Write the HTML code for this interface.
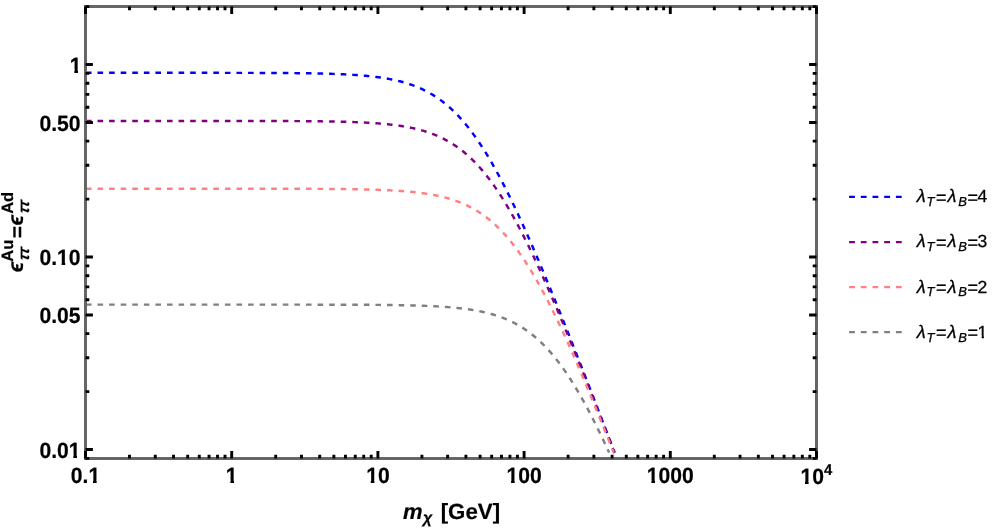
<!DOCTYPE html>
<html><head><meta charset="utf-8"><title>plot</title>
<style>
html,body{margin:0;padding:0;background:#fff;}
body{width:997px;height:529px;overflow:hidden;}
svg{display:block;}
text{font-family:"Liberation Sans",sans-serif;fill:#000;text-rendering:geometricPrecision;filter:grayscale(1);}
.tl{font-size:22px;font-weight:bold;stroke:#000;stroke-width:0.2px;}
</style></head><body>
<svg width="997" height="529" viewBox="0 0 997 529">
<rect width="997" height="529" fill="#fff" stroke="none"/>

<defs><clipPath id="c"><rect x="85.5" y="6.5" width="731.0" height="452.0"/></clipPath></defs>
<g clip-path="url(#c)" fill="none" stroke-width="2.45" stroke-dasharray="5.6 5.98" stroke-dashoffset="-0.44">
<path d="M85.50,72.81 L86.41,72.81 L87.33,72.81 L88.24,72.81 L89.16,72.81 L90.07,72.81 L90.98,72.81 L91.90,72.81 L92.81,72.81 L93.72,72.81 L94.64,72.81 L95.55,72.81 L96.46,72.81 L97.38,72.81 L98.29,72.81 L99.21,72.81 L100.12,72.81 L101.03,72.81 L101.95,72.81 L102.86,72.81 L103.78,72.81 L104.69,72.81 L105.60,72.81 L106.52,72.81 L107.43,72.81 L108.34,72.81 L109.26,72.81 L110.17,72.81 L111.09,72.81 L112.00,72.81 L112.91,72.81 L113.83,72.81 L114.74,72.81 L115.65,72.81 L116.57,72.81 L117.48,72.81 L118.39,72.81 L119.31,72.81 L120.22,72.81 L121.14,72.81 L122.05,72.81 L122.96,72.81 L123.88,72.81 L124.79,72.81 L125.70,72.81 L126.62,72.81 L127.53,72.81 L128.45,72.81 L129.36,72.81 L130.27,72.81 L131.19,72.81 L132.10,72.81 L133.01,72.81 L133.93,72.81 L134.84,72.81 L135.76,72.81 L136.67,72.81 L137.58,72.81 L138.50,72.81 L139.41,72.81 L140.32,72.81 L141.24,72.81 L142.15,72.81 L143.07,72.81 L143.98,72.81 L144.89,72.81 L145.81,72.81 L146.72,72.81 L147.63,72.81 L148.55,72.81 L149.46,72.81 L150.38,72.81 L151.29,72.81 L152.20,72.81 L153.12,72.81 L154.03,72.81 L154.94,72.81 L155.86,72.81 L156.77,72.81 L157.69,72.81 L158.60,72.81 L159.51,72.81 L160.43,72.81 L161.34,72.82 L162.25,72.82 L163.17,72.82 L164.08,72.82 L165.00,72.82 L165.91,72.82 L166.82,72.82 L167.74,72.82 L168.65,72.82 L169.56,72.82 L170.48,72.82 L171.39,72.82 L172.31,72.82 L173.22,72.82 L174.13,72.82 L175.05,72.82 L175.96,72.82 L176.88,72.82 L177.79,72.82 L178.70,72.82 L179.62,72.82 L180.53,72.82 L181.44,72.82 L182.36,72.82 L183.27,72.82 L184.19,72.82 L185.10,72.82 L186.01,72.82 L186.93,72.82 L187.84,72.82 L188.75,72.82 L189.67,72.82 L190.58,72.82 L191.50,72.82 L192.41,72.82 L193.32,72.82 L194.24,72.82 L195.15,72.82 L196.06,72.82 L196.98,72.83 L197.89,72.83 L198.81,72.83 L199.72,72.83 L200.63,72.83 L201.55,72.83 L202.46,72.83 L203.37,72.83 L204.29,72.83 L205.20,72.83 L206.11,72.83 L207.03,72.83 L207.94,72.83 L208.86,72.83 L209.77,72.83 L210.68,72.83 L211.60,72.83 L212.51,72.83 L213.42,72.84 L214.34,72.84 L215.25,72.84 L216.17,72.84 L217.08,72.84 L217.99,72.84 L218.91,72.84 L219.82,72.84 L220.73,72.84 L221.65,72.84 L222.56,72.84 L223.48,72.84 L224.39,72.85 L225.30,72.85 L226.22,72.85 L227.13,72.85 L228.04,72.85 L228.96,72.85 L229.87,72.85 L230.79,72.85 L231.70,72.86 L232.61,72.86 L233.53,72.86 L234.44,72.86 L235.35,72.86 L236.27,72.86 L237.18,72.86 L238.10,72.86 L239.01,72.87 L239.92,72.87 L240.84,72.87 L241.75,72.87 L242.66,72.87 L243.58,72.88 L244.49,72.88 L245.41,72.88 L246.32,72.88 L247.23,72.88 L248.15,72.89 L249.06,72.89 L249.97,72.89 L250.89,72.89 L251.80,72.89 L252.72,72.90 L253.63,72.90 L254.54,72.90 L255.46,72.90 L256.37,72.91 L257.28,72.91 L258.20,72.91 L259.11,72.92 L260.03,72.92 L260.94,72.92 L261.85,72.93 L262.77,72.93 L263.68,72.93 L264.60,72.94 L265.51,72.94 L266.42,72.94 L267.34,72.95 L268.25,72.95 L269.16,72.96 L270.08,72.96 L270.99,72.96 L271.90,72.97 L272.82,72.97 L273.73,72.98 L274.65,72.98 L275.56,72.99 L276.47,72.99 L277.39,73.00 L278.30,73.00 L279.21,73.01 L280.13,73.02 L281.04,73.02 L281.96,73.03 L282.87,73.03 L283.78,73.04 L284.70,73.05 L285.61,73.05 L286.52,73.06 L287.44,73.07 L288.35,73.08 L289.27,73.08 L290.18,73.09 L291.09,73.10 L292.01,73.11 L292.92,73.12 L293.83,73.13 L294.75,73.14 L295.66,73.15 L296.58,73.16 L297.49,73.17 L298.40,73.18 L299.32,73.19 L300.23,73.20 L301.14,73.21 L302.06,73.22 L302.97,73.23 L303.89,73.24 L304.80,73.26 L305.71,73.27 L306.63,73.28 L307.54,73.30 L308.45,73.31 L309.37,73.33 L310.28,73.34 L311.20,73.36 L312.11,73.37 L313.02,73.39 L313.94,73.41 L314.85,73.42 L315.76,73.44 L316.68,73.46 L317.59,73.48 L318.51,73.50 L319.42,73.52 L320.33,73.54 L321.25,73.56 L322.16,73.58 L323.07,73.60 L323.99,73.63 L324.90,73.65 L325.82,73.67 L326.73,73.70 L327.64,73.73 L328.56,73.75 L329.47,73.78 L330.38,73.81 L331.30,73.84 L332.21,73.87 L333.13,73.90 L334.04,73.93 L334.95,73.96 L335.87,73.99 L336.78,74.03 L337.69,74.06 L338.61,74.10 L339.52,74.14 L340.44,74.18 L341.35,74.22 L342.26,74.26 L343.18,74.30 L344.09,74.34 L345.00,74.39 L345.92,74.43 L346.83,74.48 L347.75,74.53 L348.66,74.58 L349.57,74.63 L350.49,74.68 L351.40,74.73 L352.31,74.79 L353.23,74.85 L354.14,74.90 L355.06,74.96 L355.97,75.03 L356.88,75.09 L357.80,75.16 L358.71,75.22 L359.62,75.29 L360.54,75.36 L361.45,75.44 L362.37,75.51 L363.28,75.59 L364.19,75.67 L365.11,75.75 L366.02,75.84 L366.94,75.92 L367.85,76.01 L368.76,76.10 L369.68,76.20 L370.59,76.30 L371.50,76.40 L372.42,76.50 L373.33,76.60 L374.25,76.71 L375.16,76.82 L376.07,76.94 L376.99,77.05 L377.90,77.18 L378.81,77.30 L379.73,77.43 L380.64,77.56 L381.55,77.69 L382.47,77.83 L383.38,77.97 L384.30,78.12 L385.21,78.27 L386.12,78.42 L387.04,78.58 L387.95,78.74 L388.87,78.91 L389.78,79.08 L390.69,79.26 L391.61,79.44 L392.52,79.63 L393.43,79.82 L394.35,80.01 L395.26,80.21 L396.17,80.42 L397.09,80.63 L398.00,80.85 L398.92,81.08 L399.83,81.30 L400.74,81.54 L401.66,81.78 L402.57,82.03 L403.48,82.28 L404.40,82.55 L405.31,82.81 L406.23,83.09 L407.14,83.37 L408.05,83.66 L408.97,83.96 L409.88,84.26 L410.80,84.57 L411.71,84.89 L412.62,85.22 L413.54,85.56 L414.45,85.90 L415.36,86.25 L416.28,86.61 L417.19,86.99 L418.10,87.37 L419.02,87.75 L419.93,88.15 L420.85,88.56 L421.76,88.98 L422.67,89.41 L423.59,89.85 L424.50,90.30 L425.42,90.75 L426.33,91.23 L427.24,91.71 L428.16,92.20 L429.07,92.70 L429.98,93.22 L430.90,93.75 L431.81,94.28 L432.72,94.84 L433.64,95.40 L434.55,95.97 L435.47,96.56 L436.38,97.17 L437.29,97.78 L438.21,98.41 L439.12,99.05 L440.03,99.70 L440.95,100.37 L441.86,101.06 L442.78,101.75 L443.69,102.46 L444.60,103.19 L445.52,103.93 L446.43,104.69 L447.34,105.46 L448.26,106.24 L449.17,107.04 L450.09,107.86 L451.00,108.69 L451.91,109.54 L452.83,110.40 L453.74,111.28 L454.65,112.18 L455.57,113.09 L456.48,114.02 L457.40,114.96 L458.31,115.92 L459.22,116.90 L460.14,117.89 L461.05,118.91 L461.96,119.93 L462.88,120.98 L463.79,122.04 L464.71,123.12 L465.62,124.22 L466.53,125.33 L467.45,126.46 L468.36,127.61 L469.27,128.78 L470.19,129.96 L471.10,131.16 L472.02,132.38 L472.93,133.61 L473.84,134.86 L474.76,136.13 L475.67,137.42 L476.58,138.72 L477.50,140.05 L478.41,141.38 L479.33,142.74 L480.24,144.11 L481.15,145.50 L482.07,146.91 L482.98,148.33 L483.89,149.77 L484.81,151.23 L485.72,152.70 L486.64,154.19 L487.55,155.69 L488.46,157.21 L489.38,158.75 L490.29,160.30 L491.20,161.87 L492.12,163.46 L493.03,165.06 L493.95,166.67 L494.86,168.31 L495.77,169.95 L496.69,171.61 L497.60,173.29 L498.51,174.98 L499.43,176.68 L500.34,178.40 L501.26,180.13 L502.17,181.88 L503.08,183.64 L504.00,185.41 L504.91,187.20 L505.82,189.00 L506.74,190.82 L507.65,192.64 L508.57,194.48 L509.48,196.33 L510.39,198.19 L511.31,200.07 L512.22,201.96 L513.13,203.85 L514.05,205.76 L514.96,207.69 L515.88,209.62 L516.79,211.56 L517.70,213.52 L518.62,215.48 L519.53,217.45 L520.44,219.44 L521.36,221.43 L522.27,223.44 L523.19,225.45 L524.10,227.48 L525.01,229.51 L525.93,231.55 L526.84,233.60 L527.75,235.66 L528.67,237.73 L529.58,239.80 L530.50,241.89 L531.41,243.98 L532.32,246.08 L533.24,248.18 L534.15,250.30 L535.07,252.42 L535.98,254.55 L536.89,256.69 L537.81,258.83 L538.72,260.98 L539.63,263.13 L540.55,265.30 L541.46,267.47 L542.38,269.64 L543.29,271.82 L544.20,274.01 L545.12,276.20 L546.03,278.40 L546.94,280.60 L547.86,282.81 L548.77,285.02 L549.68,287.24 L550.60,289.46 L551.51,291.69 L552.43,293.93 L553.34,296.16 L554.25,298.41 L555.17,300.65 L556.08,302.90 L557.00,305.16 L557.91,307.42 L558.82,309.68 L559.74,311.95 L560.65,314.22 L561.56,316.49 L562.48,318.77 L563.39,321.05 L564.30,323.33 L565.22,325.62 L566.13,327.91 L567.05,330.21 L567.96,332.50 L568.87,334.80 L569.79,337.11 L570.70,339.41 L571.62,341.72 L572.53,344.03 L573.44,346.35 L574.36,348.66 L575.27,350.98 L576.18,353.30 L577.10,355.62 L578.01,357.95 L578.92,360.28 L579.84,362.61 L580.75,364.94 L581.67,367.27 L582.58,369.61 L583.49,371.95 L584.41,374.29 L585.32,376.63 L586.23,378.97 L587.15,381.32 L588.06,383.67 L588.98,386.02 L589.89,388.37 L590.80,390.72 L591.72,393.07 L592.63,395.43 L593.54,397.78 L594.46,400.14 L595.37,402.50 L596.29,404.86 L597.20,407.22 L598.11,409.58 L599.03,411.95 L599.94,414.31 L600.85,416.68 L601.77,419.05 L602.68,421.41 L603.60,423.78 L604.51,426.15 L605.42,428.53 L606.34,430.90 L607.25,433.27 L608.16,435.65 L609.08,438.02 L609.99,440.40 L610.91,442.77 L611.82,445.15 L612.73,447.53 L613.65,449.91 L614.56,452.29" stroke="#0000ff"/>
<path d="M85.50,120.91 L86.41,120.91 L87.33,120.91 L88.24,120.91 L89.16,120.91 L90.07,120.91 L90.98,120.91 L91.90,120.91 L92.81,120.91 L93.72,120.91 L94.64,120.91 L95.55,120.91 L96.46,120.91 L97.38,120.91 L98.29,120.91 L99.21,120.91 L100.12,120.91 L101.03,120.91 L101.95,120.91 L102.86,120.91 L103.78,120.91 L104.69,120.91 L105.60,120.91 L106.52,120.91 L107.43,120.91 L108.34,120.91 L109.26,120.91 L110.17,120.91 L111.09,120.91 L112.00,120.91 L112.91,120.91 L113.83,120.91 L114.74,120.91 L115.65,120.91 L116.57,120.91 L117.48,120.91 L118.39,120.91 L119.31,120.91 L120.22,120.91 L121.14,120.91 L122.05,120.91 L122.96,120.91 L123.88,120.91 L124.79,120.91 L125.70,120.91 L126.62,120.91 L127.53,120.91 L128.45,120.91 L129.36,120.91 L130.27,120.91 L131.19,120.91 L132.10,120.91 L133.01,120.91 L133.93,120.91 L134.84,120.91 L135.76,120.91 L136.67,120.91 L137.58,120.91 L138.50,120.91 L139.41,120.91 L140.32,120.91 L141.24,120.91 L142.15,120.91 L143.07,120.91 L143.98,120.91 L144.89,120.91 L145.81,120.91 L146.72,120.91 L147.63,120.91 L148.55,120.91 L149.46,120.91 L150.38,120.91 L151.29,120.91 L152.20,120.91 L153.12,120.91 L154.03,120.91 L154.94,120.91 L155.86,120.91 L156.77,120.91 L157.69,120.91 L158.60,120.91 L159.51,120.91 L160.43,120.91 L161.34,120.91 L162.25,120.91 L163.17,120.91 L164.08,120.91 L165.00,120.91 L165.91,120.91 L166.82,120.91 L167.74,120.91 L168.65,120.92 L169.56,120.92 L170.48,120.92 L171.39,120.92 L172.31,120.92 L173.22,120.92 L174.13,120.92 L175.05,120.92 L175.96,120.92 L176.88,120.92 L177.79,120.92 L178.70,120.92 L179.62,120.92 L180.53,120.92 L181.44,120.92 L182.36,120.92 L183.27,120.92 L184.19,120.92 L185.10,120.92 L186.01,120.92 L186.93,120.92 L187.84,120.92 L188.75,120.92 L189.67,120.92 L190.58,120.92 L191.50,120.92 L192.41,120.92 L193.32,120.92 L194.24,120.92 L195.15,120.92 L196.06,120.92 L196.98,120.92 L197.89,120.92 L198.81,120.92 L199.72,120.92 L200.63,120.92 L201.55,120.92 L202.46,120.92 L203.37,120.92 L204.29,120.92 L205.20,120.92 L206.11,120.92 L207.03,120.92 L207.94,120.92 L208.86,120.92 L209.77,120.92 L210.68,120.92 L211.60,120.92 L212.51,120.93 L213.42,120.93 L214.34,120.93 L215.25,120.93 L216.17,120.93 L217.08,120.93 L217.99,120.93 L218.91,120.93 L219.82,120.93 L220.73,120.93 L221.65,120.93 L222.56,120.93 L223.48,120.93 L224.39,120.93 L225.30,120.93 L226.22,120.93 L227.13,120.93 L228.04,120.93 L228.96,120.93 L229.87,120.94 L230.79,120.94 L231.70,120.94 L232.61,120.94 L233.53,120.94 L234.44,120.94 L235.35,120.94 L236.27,120.94 L237.18,120.94 L238.10,120.94 L239.01,120.94 L239.92,120.94 L240.84,120.95 L241.75,120.95 L242.66,120.95 L243.58,120.95 L244.49,120.95 L245.41,120.95 L246.32,120.95 L247.23,120.95 L248.15,120.95 L249.06,120.96 L249.97,120.96 L250.89,120.96 L251.80,120.96 L252.72,120.96 L253.63,120.96 L254.54,120.96 L255.46,120.96 L256.37,120.97 L257.28,120.97 L258.20,120.97 L259.11,120.97 L260.03,120.97 L260.94,120.97 L261.85,120.98 L262.77,120.98 L263.68,120.98 L264.60,120.98 L265.51,120.98 L266.42,120.99 L267.34,120.99 L268.25,120.99 L269.16,120.99 L270.08,121.00 L270.99,121.00 L271.90,121.00 L272.82,121.00 L273.73,121.01 L274.65,121.01 L275.56,121.01 L276.47,121.01 L277.39,121.02 L278.30,121.02 L279.21,121.02 L280.13,121.03 L281.04,121.03 L281.96,121.03 L282.87,121.04 L283.78,121.04 L284.70,121.05 L285.61,121.05 L286.52,121.05 L287.44,121.06 L288.35,121.06 L289.27,121.07 L290.18,121.07 L291.09,121.08 L292.01,121.08 L292.92,121.08 L293.83,121.09 L294.75,121.10 L295.66,121.10 L296.58,121.11 L297.49,121.11 L298.40,121.12 L299.32,121.12 L300.23,121.13 L301.14,121.14 L302.06,121.14 L302.97,121.15 L303.89,121.16 L304.80,121.16 L305.71,121.17 L306.63,121.18 L307.54,121.19 L308.45,121.19 L309.37,121.20 L310.28,121.21 L311.20,121.22 L312.11,121.23 L313.02,121.24 L313.94,121.25 L314.85,121.26 L315.76,121.27 L316.68,121.28 L317.59,121.29 L318.51,121.30 L319.42,121.31 L320.33,121.32 L321.25,121.33 L322.16,121.35 L323.07,121.36 L323.99,121.37 L324.90,121.39 L325.82,121.40 L326.73,121.41 L327.64,121.43 L328.56,121.44 L329.47,121.46 L330.38,121.47 L331.30,121.49 L332.21,121.51 L333.13,121.52 L334.04,121.54 L334.95,121.56 L335.87,121.58 L336.78,121.60 L337.69,121.62 L338.61,121.64 L339.52,121.66 L340.44,121.68 L341.35,121.70 L342.26,121.73 L343.18,121.75 L344.09,121.78 L345.00,121.80 L345.92,121.83 L346.83,121.85 L347.75,121.88 L348.66,121.91 L349.57,121.94 L350.49,121.97 L351.40,122.00 L352.31,122.03 L353.23,122.06 L354.14,122.10 L355.06,122.13 L355.97,122.17 L356.88,122.20 L357.80,122.24 L358.71,122.28 L359.62,122.32 L360.54,122.36 L361.45,122.40 L362.37,122.44 L363.28,122.49 L364.19,122.53 L365.11,122.58 L366.02,122.63 L366.94,122.68 L367.85,122.73 L368.76,122.78 L369.68,122.83 L370.59,122.89 L371.50,122.95 L372.42,123.01 L373.33,123.07 L374.25,123.13 L375.16,123.19 L376.07,123.26 L376.99,123.33 L377.90,123.39 L378.81,123.47 L379.73,123.54 L380.64,123.62 L381.55,123.69 L382.47,123.77 L383.38,123.85 L384.30,123.94 L385.21,124.03 L386.12,124.12 L387.04,124.21 L387.95,124.30 L388.87,124.40 L389.78,124.50 L390.69,124.60 L391.61,124.71 L392.52,124.81 L393.43,124.93 L394.35,125.04 L395.26,125.16 L396.17,125.28 L397.09,125.40 L398.00,125.53 L398.92,125.66 L399.83,125.80 L400.74,125.93 L401.66,126.08 L402.57,126.22 L403.48,126.37 L404.40,126.53 L405.31,126.68 L406.23,126.85 L407.14,127.01 L408.05,127.19 L408.97,127.36 L409.88,127.54 L410.80,127.73 L411.71,127.92 L412.62,128.12 L413.54,128.32 L414.45,128.52 L415.36,128.74 L416.28,128.96 L417.19,129.18 L418.10,129.41 L419.02,129.64 L419.93,129.89 L420.85,130.13 L421.76,130.39 L422.67,130.65 L423.59,130.92 L424.50,131.19 L425.42,131.47 L426.33,131.76 L427.24,132.06 L428.16,132.36 L429.07,132.68 L429.98,133.00 L430.90,133.32 L431.81,133.66 L432.72,134.00 L433.64,134.36 L434.55,134.72 L435.47,135.09 L436.38,135.47 L437.29,135.86 L438.21,136.26 L439.12,136.67 L440.03,137.09 L440.95,137.51 L441.86,137.95 L442.78,138.40 L443.69,138.86 L444.60,139.33 L445.52,139.81 L446.43,140.31 L447.34,140.81 L448.26,141.32 L449.17,141.85 L450.09,142.39 L451.00,142.94 L451.91,143.51 L452.83,144.08 L453.74,144.67 L454.65,145.27 L455.57,145.89 L456.48,146.52 L457.40,147.16 L458.31,147.81 L459.22,148.48 L460.14,149.16 L461.05,149.86 L461.96,150.57 L462.88,151.30 L463.79,152.04 L464.71,152.79 L465.62,153.57 L466.53,154.35 L467.45,155.15 L468.36,155.97 L469.27,156.80 L470.19,157.65 L471.10,158.51 L472.02,159.39 L472.93,160.29 L473.84,161.20 L474.76,162.13 L475.67,163.07 L476.58,164.03 L477.50,165.01 L478.41,166.01 L479.33,167.02 L480.24,168.05 L481.15,169.09 L482.07,170.15 L482.98,171.23 L483.89,172.33 L484.81,173.44 L485.72,174.58 L486.64,175.72 L487.55,176.89 L488.46,178.07 L489.38,179.27 L490.29,180.49 L491.20,181.73 L492.12,182.98 L493.03,184.25 L493.95,185.54 L494.86,186.84 L495.77,188.16 L496.69,189.50 L497.60,190.85 L498.51,192.23 L499.43,193.62 L500.34,195.02 L501.26,196.45 L502.17,197.88 L503.08,199.34 L504.00,200.81 L504.91,202.30 L505.82,203.81 L506.74,205.33 L507.65,206.87 L508.57,208.42 L509.48,209.99 L510.39,211.58 L511.31,213.18 L512.22,214.79 L513.13,216.42 L514.05,218.07 L514.96,219.73 L515.88,221.41 L516.79,223.10 L517.70,224.80 L518.62,226.52 L519.53,228.25 L520.44,230.00 L521.36,231.76 L522.27,233.53 L523.19,235.32 L524.10,237.12 L525.01,238.93 L525.93,240.76 L526.84,242.60 L527.75,244.45 L528.67,246.31 L529.58,248.19 L530.50,250.08 L531.41,251.97 L532.32,253.89 L533.24,255.81 L534.15,257.74 L535.07,259.68 L535.98,261.64 L536.89,263.60 L537.81,265.58 L538.72,267.56 L539.63,269.56 L540.55,271.56 L541.46,273.57 L542.38,275.60 L543.29,277.63 L544.20,279.67 L545.12,281.72 L546.03,283.78 L546.94,285.85 L547.86,287.92 L548.77,290.01 L549.68,292.10 L550.60,294.20 L551.51,296.31 L552.43,298.42 L553.34,300.54 L554.25,302.67 L555.17,304.81 L556.08,306.95 L557.00,309.10 L557.91,311.26 L558.82,313.42 L559.74,315.59 L560.65,317.76 L561.56,319.94 L562.48,322.13 L563.39,324.32 L564.30,326.52 L565.22,328.72 L566.13,330.93 L567.05,333.15 L567.96,335.36 L568.87,337.59 L569.79,339.82 L570.70,342.05 L571.62,344.29 L572.53,346.53 L573.44,348.78 L574.36,351.03 L575.27,353.28 L576.18,355.54 L577.10,357.80 L578.01,360.07 L578.92,362.34 L579.84,364.61 L580.75,366.89 L581.67,369.17 L582.58,371.46 L583.49,373.75 L584.41,376.04 L585.32,378.33 L586.23,380.63 L587.15,382.93 L588.06,385.23 L588.98,387.54 L589.89,389.84 L590.80,392.16 L591.72,394.47 L592.63,396.79 L593.54,399.10 L594.46,401.43 L595.37,403.75 L596.29,406.07 L597.20,408.40 L598.11,410.73 L599.03,413.06 L599.94,415.40 L600.85,417.73 L601.77,420.07 L602.68,422.41 L603.60,424.75 L604.51,427.10 L605.42,429.44 L606.34,431.79 L607.25,434.14 L608.16,436.49 L609.08,438.84 L609.99,441.19 L610.91,443.55 L611.82,445.91 L612.73,448.26 L613.65,450.62 L614.56,452.98" stroke="#800080"/>
<path d="M85.50,188.71 L86.41,188.71 L87.33,188.71 L88.24,188.71 L89.16,188.71 L90.07,188.71 L90.98,188.71 L91.90,188.71 L92.81,188.71 L93.72,188.71 L94.64,188.71 L95.55,188.71 L96.46,188.71 L97.38,188.71 L98.29,188.71 L99.21,188.71 L100.12,188.71 L101.03,188.71 L101.95,188.71 L102.86,188.71 L103.78,188.71 L104.69,188.71 L105.60,188.71 L106.52,188.71 L107.43,188.71 L108.34,188.71 L109.26,188.71 L110.17,188.71 L111.09,188.71 L112.00,188.71 L112.91,188.71 L113.83,188.71 L114.74,188.71 L115.65,188.71 L116.57,188.71 L117.48,188.71 L118.39,188.71 L119.31,188.71 L120.22,188.71 L121.14,188.71 L122.05,188.71 L122.96,188.71 L123.88,188.71 L124.79,188.71 L125.70,188.71 L126.62,188.71 L127.53,188.71 L128.45,188.71 L129.36,188.71 L130.27,188.71 L131.19,188.71 L132.10,188.71 L133.01,188.71 L133.93,188.71 L134.84,188.71 L135.76,188.71 L136.67,188.71 L137.58,188.71 L138.50,188.71 L139.41,188.71 L140.32,188.71 L141.24,188.71 L142.15,188.71 L143.07,188.71 L143.98,188.71 L144.89,188.71 L145.81,188.71 L146.72,188.71 L147.63,188.71 L148.55,188.71 L149.46,188.71 L150.38,188.71 L151.29,188.71 L152.20,188.71 L153.12,188.71 L154.03,188.71 L154.94,188.71 L155.86,188.71 L156.77,188.71 L157.69,188.71 L158.60,188.71 L159.51,188.71 L160.43,188.71 L161.34,188.71 L162.25,188.71 L163.17,188.71 L164.08,188.71 L165.00,188.71 L165.91,188.71 L166.82,188.71 L167.74,188.71 L168.65,188.71 L169.56,188.71 L170.48,188.71 L171.39,188.71 L172.31,188.71 L173.22,188.71 L174.13,188.71 L175.05,188.71 L175.96,188.71 L176.88,188.71 L177.79,188.71 L178.70,188.71 L179.62,188.71 L180.53,188.71 L181.44,188.71 L182.36,188.71 L183.27,188.71 L184.19,188.71 L185.10,188.71 L186.01,188.71 L186.93,188.71 L187.84,188.71 L188.75,188.71 L189.67,188.71 L190.58,188.71 L191.50,188.71 L192.41,188.71 L193.32,188.71 L194.24,188.71 L195.15,188.71 L196.06,188.71 L196.98,188.71 L197.89,188.71 L198.81,188.71 L199.72,188.71 L200.63,188.71 L201.55,188.71 L202.46,188.71 L203.37,188.71 L204.29,188.71 L205.20,188.71 L206.11,188.71 L207.03,188.71 L207.94,188.71 L208.86,188.71 L209.77,188.71 L210.68,188.71 L211.60,188.71 L212.51,188.71 L213.42,188.71 L214.34,188.71 L215.25,188.71 L216.17,188.71 L217.08,188.71 L217.99,188.71 L218.91,188.71 L219.82,188.71 L220.73,188.71 L221.65,188.71 L222.56,188.72 L223.48,188.72 L224.39,188.72 L225.30,188.72 L226.22,188.72 L227.13,188.72 L228.04,188.72 L228.96,188.72 L229.87,188.72 L230.79,188.72 L231.70,188.72 L232.61,188.72 L233.53,188.72 L234.44,188.72 L235.35,188.72 L236.27,188.72 L237.18,188.72 L238.10,188.72 L239.01,188.72 L239.92,188.72 L240.84,188.72 L241.75,188.72 L242.66,188.72 L243.58,188.72 L244.49,188.72 L245.41,188.72 L246.32,188.72 L247.23,188.73 L248.15,188.73 L249.06,188.73 L249.97,188.73 L250.89,188.73 L251.80,188.73 L252.72,188.73 L253.63,188.73 L254.54,188.73 L255.46,188.73 L256.37,188.73 L257.28,188.73 L258.20,188.73 L259.11,188.73 L260.03,188.73 L260.94,188.73 L261.85,188.74 L262.77,188.74 L263.68,188.74 L264.60,188.74 L265.51,188.74 L266.42,188.74 L267.34,188.74 L268.25,188.74 L269.16,188.74 L270.08,188.74 L270.99,188.75 L271.90,188.75 L272.82,188.75 L273.73,188.75 L274.65,188.75 L275.56,188.75 L276.47,188.75 L277.39,188.75 L278.30,188.76 L279.21,188.76 L280.13,188.76 L281.04,188.76 L281.96,188.76 L282.87,188.76 L283.78,188.76 L284.70,188.77 L285.61,188.77 L286.52,188.77 L287.44,188.77 L288.35,188.77 L289.27,188.78 L290.18,188.78 L291.09,188.78 L292.01,188.78 L292.92,188.78 L293.83,188.79 L294.75,188.79 L295.66,188.79 L296.58,188.79 L297.49,188.80 L298.40,188.80 L299.32,188.80 L300.23,188.80 L301.14,188.81 L302.06,188.81 L302.97,188.81 L303.89,188.82 L304.80,188.82 L305.71,188.82 L306.63,188.83 L307.54,188.83 L308.45,188.83 L309.37,188.84 L310.28,188.84 L311.20,188.84 L312.11,188.85 L313.02,188.85 L313.94,188.86 L314.85,188.86 L315.76,188.86 L316.68,188.87 L317.59,188.87 L318.51,188.88 L319.42,188.88 L320.33,188.89 L321.25,188.89 L322.16,188.90 L323.07,188.91 L323.99,188.91 L324.90,188.92 L325.82,188.92 L326.73,188.93 L327.64,188.94 L328.56,188.94 L329.47,188.95 L330.38,188.96 L331.30,188.96 L332.21,188.97 L333.13,188.98 L334.04,188.99 L334.95,189.00 L335.87,189.00 L336.78,189.01 L337.69,189.02 L338.61,189.03 L339.52,189.04 L340.44,189.05 L341.35,189.06 L342.26,189.07 L343.18,189.08 L344.09,189.09 L345.00,189.10 L345.92,189.11 L346.83,189.13 L347.75,189.14 L348.66,189.15 L349.57,189.16 L350.49,189.18 L351.40,189.19 L352.31,189.21 L353.23,189.22 L354.14,189.24 L355.06,189.25 L355.97,189.27 L356.88,189.28 L357.80,189.30 L358.71,189.32 L359.62,189.33 L360.54,189.35 L361.45,189.37 L362.37,189.39 L363.28,189.41 L364.19,189.43 L365.11,189.45 L366.02,189.47 L366.94,189.50 L367.85,189.52 L368.76,189.54 L369.68,189.57 L370.59,189.59 L371.50,189.62 L372.42,189.64 L373.33,189.67 L374.25,189.70 L375.16,189.73 L376.07,189.76 L376.99,189.79 L377.90,189.82 L378.81,189.85 L379.73,189.89 L380.64,189.92 L381.55,189.95 L382.47,189.99 L383.38,190.03 L384.30,190.07 L385.21,190.11 L386.12,190.15 L387.04,190.19 L387.95,190.23 L388.87,190.27 L389.78,190.32 L390.69,190.37 L391.61,190.41 L392.52,190.46 L393.43,190.51 L394.35,190.57 L395.26,190.62 L396.17,190.68 L397.09,190.73 L398.00,190.79 L398.92,190.85 L399.83,190.91 L400.74,190.98 L401.66,191.04 L402.57,191.11 L403.48,191.18 L404.40,191.25 L405.31,191.32 L406.23,191.40 L407.14,191.47 L408.05,191.55 L408.97,191.64 L409.88,191.72 L410.80,191.81 L411.71,191.89 L412.62,191.99 L413.54,192.08 L414.45,192.18 L415.36,192.28 L416.28,192.38 L417.19,192.48 L418.10,192.59 L419.02,192.70 L419.93,192.81 L420.85,192.93 L421.76,193.05 L422.67,193.18 L423.59,193.30 L424.50,193.43 L425.42,193.57 L426.33,193.70 L427.24,193.85 L428.16,193.99 L429.07,194.14 L429.98,194.29 L430.90,194.45 L431.81,194.61 L432.72,194.78 L433.64,194.95 L434.55,195.13 L435.47,195.31 L436.38,195.49 L437.29,195.68 L438.21,195.88 L439.12,196.08 L440.03,196.28 L440.95,196.49 L441.86,196.71 L442.78,196.93 L443.69,197.16 L444.60,197.40 L445.52,197.64 L446.43,197.89 L447.34,198.14 L448.26,198.40 L449.17,198.67 L450.09,198.94 L451.00,199.22 L451.91,199.51 L452.83,199.80 L453.74,200.11 L454.65,200.42 L455.57,200.74 L456.48,201.06 L457.40,201.40 L458.31,201.74 L459.22,202.09 L460.14,202.45 L461.05,202.82 L461.96,203.20 L462.88,203.59 L463.79,203.98 L464.71,204.39 L465.62,204.81 L466.53,205.23 L467.45,205.67 L468.36,206.12 L469.27,206.58 L470.19,207.04 L471.10,207.52 L472.02,208.01 L472.93,208.52 L473.84,209.03 L474.76,209.55 L475.67,210.09 L476.58,210.64 L477.50,211.20 L478.41,211.78 L479.33,212.36 L480.24,212.96 L481.15,213.57 L482.07,214.20 L482.98,214.84 L483.89,215.49 L484.81,216.16 L485.72,216.84 L486.64,217.53 L487.55,218.24 L488.46,218.97 L489.38,219.70 L490.29,220.46 L491.20,221.22 L492.12,222.01 L493.03,222.81 L493.95,223.62 L494.86,224.45 L495.77,225.29 L496.69,226.15 L497.60,227.03 L498.51,227.92 L499.43,228.83 L500.34,229.76 L501.26,230.70 L502.17,231.66 L503.08,232.63 L504.00,233.63 L504.91,234.63 L505.82,235.66 L506.74,236.70 L507.65,237.76 L508.57,238.84 L509.48,239.93 L510.39,241.04 L511.31,242.17 L512.22,243.32 L513.13,244.48 L514.05,245.66 L514.96,246.86 L515.88,248.07 L516.79,249.30 L517.70,250.55 L518.62,251.82 L519.53,253.10 L520.44,254.41 L521.36,255.72 L522.27,257.06 L523.19,258.41 L524.10,259.78 L525.01,261.17 L525.93,262.57 L526.84,263.99 L527.75,265.43 L528.67,266.88 L529.58,268.35 L530.50,269.84 L531.41,271.34 L532.32,272.86 L533.24,274.39 L534.15,275.94 L535.07,277.51 L535.98,279.09 L536.89,280.69 L537.81,282.30 L538.72,283.93 L539.63,285.58 L540.55,287.23 L541.46,288.91 L542.38,290.59 L543.29,292.30 L544.20,294.01 L545.12,295.74 L546.03,297.49 L546.94,299.25 L547.86,301.02 L548.77,302.80 L549.68,304.60 L550.60,306.41 L551.51,308.24 L552.43,310.07 L553.34,311.92 L554.25,313.78 L555.17,315.66 L556.08,317.54 L557.00,319.44 L557.91,321.35 L558.82,323.27 L559.74,325.20 L560.65,327.14 L561.56,329.09 L562.48,331.05 L563.39,333.03 L564.30,335.01 L565.22,337.00 L566.13,339.00 L567.05,341.02 L567.96,343.04 L568.87,345.07 L569.79,347.11 L570.70,349.16 L571.62,351.22 L572.53,353.28 L573.44,355.36 L574.36,357.44 L575.27,359.53 L576.18,361.63 L577.10,363.73 L578.01,365.85 L578.92,367.97 L579.84,370.09 L580.75,372.23 L581.67,374.37 L582.58,376.52 L583.49,378.68 L584.41,380.84 L585.32,383.00 L586.23,385.18 L587.15,387.36 L588.06,389.54 L588.98,391.73 L589.89,393.93 L590.80,396.13 L591.72,398.34 L592.63,400.55 L593.54,402.77 L594.46,404.99 L595.37,407.22 L596.29,409.45 L597.20,411.69 L598.11,413.93 L599.03,416.18 L599.94,418.43 L600.85,420.68 L601.77,422.94 L602.68,425.20 L603.60,427.47 L604.51,429.74 L605.42,432.01 L606.34,434.29 L607.25,436.57 L608.16,438.85 L609.08,441.14 L609.99,443.43 L610.91,445.72 L611.82,448.02 L612.73,450.32 L613.65,452.62" stroke="#ff8080"/>
<path d="M85.50,304.60 L86.41,304.60 L87.33,304.60 L88.24,304.60 L89.16,304.60 L90.07,304.60 L90.98,304.60 L91.90,304.60 L92.81,304.60 L93.72,304.60 L94.64,304.60 L95.55,304.60 L96.46,304.60 L97.38,304.60 L98.29,304.60 L99.21,304.60 L100.12,304.60 L101.03,304.60 L101.95,304.60 L102.86,304.60 L103.78,304.60 L104.69,304.60 L105.60,304.60 L106.52,304.60 L107.43,304.60 L108.34,304.60 L109.26,304.60 L110.17,304.60 L111.09,304.60 L112.00,304.60 L112.91,304.60 L113.83,304.60 L114.74,304.60 L115.65,304.60 L116.57,304.60 L117.48,304.60 L118.39,304.60 L119.31,304.60 L120.22,304.60 L121.14,304.60 L122.05,304.60 L122.96,304.60 L123.88,304.60 L124.79,304.60 L125.70,304.60 L126.62,304.60 L127.53,304.60 L128.45,304.60 L129.36,304.60 L130.27,304.60 L131.19,304.60 L132.10,304.60 L133.01,304.60 L133.93,304.60 L134.84,304.60 L135.76,304.60 L136.67,304.60 L137.58,304.60 L138.50,304.60 L139.41,304.60 L140.32,304.60 L141.24,304.60 L142.15,304.60 L143.07,304.60 L143.98,304.60 L144.89,304.60 L145.81,304.60 L146.72,304.60 L147.63,304.60 L148.55,304.60 L149.46,304.60 L150.38,304.60 L151.29,304.60 L152.20,304.60 L153.12,304.60 L154.03,304.60 L154.94,304.60 L155.86,304.60 L156.77,304.60 L157.69,304.60 L158.60,304.60 L159.51,304.60 L160.43,304.60 L161.34,304.60 L162.25,304.60 L163.17,304.60 L164.08,304.60 L165.00,304.60 L165.91,304.60 L166.82,304.60 L167.74,304.60 L168.65,304.60 L169.56,304.60 L170.48,304.60 L171.39,304.60 L172.31,304.60 L173.22,304.60 L174.13,304.60 L175.05,304.60 L175.96,304.60 L176.88,304.60 L177.79,304.60 L178.70,304.60 L179.62,304.60 L180.53,304.60 L181.44,304.60 L182.36,304.60 L183.27,304.60 L184.19,304.60 L185.10,304.60 L186.01,304.60 L186.93,304.60 L187.84,304.60 L188.75,304.60 L189.67,304.60 L190.58,304.60 L191.50,304.60 L192.41,304.60 L193.32,304.60 L194.24,304.60 L195.15,304.60 L196.06,304.60 L196.98,304.60 L197.89,304.60 L198.81,304.60 L199.72,304.60 L200.63,304.60 L201.55,304.60 L202.46,304.60 L203.37,304.60 L204.29,304.60 L205.20,304.60 L206.11,304.60 L207.03,304.60 L207.94,304.60 L208.86,304.60 L209.77,304.60 L210.68,304.60 L211.60,304.60 L212.51,304.60 L213.42,304.60 L214.34,304.60 L215.25,304.60 L216.17,304.61 L217.08,304.61 L217.99,304.61 L218.91,304.61 L219.82,304.61 L220.73,304.61 L221.65,304.61 L222.56,304.61 L223.48,304.61 L224.39,304.61 L225.30,304.61 L226.22,304.61 L227.13,304.61 L228.04,304.61 L228.96,304.61 L229.87,304.61 L230.79,304.61 L231.70,304.61 L232.61,304.61 L233.53,304.61 L234.44,304.61 L235.35,304.61 L236.27,304.61 L237.18,304.61 L238.10,304.61 L239.01,304.61 L239.92,304.61 L240.84,304.61 L241.75,304.61 L242.66,304.61 L243.58,304.61 L244.49,304.61 L245.41,304.61 L246.32,304.61 L247.23,304.61 L248.15,304.61 L249.06,304.61 L249.97,304.61 L250.89,304.61 L251.80,304.61 L252.72,304.61 L253.63,304.61 L254.54,304.61 L255.46,304.61 L256.37,304.61 L257.28,304.61 L258.20,304.61 L259.11,304.61 L260.03,304.61 L260.94,304.61 L261.85,304.61 L262.77,304.61 L263.68,304.61 L264.60,304.61 L265.51,304.61 L266.42,304.61 L267.34,304.61 L268.25,304.61 L269.16,304.61 L270.08,304.61 L270.99,304.61 L271.90,304.61 L272.82,304.61 L273.73,304.61 L274.65,304.61 L275.56,304.61 L276.47,304.61 L277.39,304.62 L278.30,304.62 L279.21,304.62 L280.13,304.62 L281.04,304.62 L281.96,304.62 L282.87,304.62 L283.78,304.62 L284.70,304.62 L285.61,304.62 L286.52,304.62 L287.44,304.62 L288.35,304.62 L289.27,304.62 L290.18,304.62 L291.09,304.62 L292.01,304.62 L292.92,304.62 L293.83,304.62 L294.75,304.62 L295.66,304.62 L296.58,304.62 L297.49,304.63 L298.40,304.63 L299.32,304.63 L300.23,304.63 L301.14,304.63 L302.06,304.63 L302.97,304.63 L303.89,304.63 L304.80,304.63 L305.71,304.63 L306.63,304.63 L307.54,304.63 L308.45,304.63 L309.37,304.64 L310.28,304.64 L311.20,304.64 L312.11,304.64 L313.02,304.64 L313.94,304.64 L314.85,304.64 L315.76,304.64 L316.68,304.64 L317.59,304.65 L318.51,304.65 L319.42,304.65 L320.33,304.65 L321.25,304.65 L322.16,304.65 L323.07,304.65 L323.99,304.65 L324.90,304.66 L325.82,304.66 L326.73,304.66 L327.64,304.66 L328.56,304.66 L329.47,304.66 L330.38,304.67 L331.30,304.67 L332.21,304.67 L333.13,304.67 L334.04,304.67 L334.95,304.68 L335.87,304.68 L336.78,304.68 L337.69,304.68 L338.61,304.68 L339.52,304.69 L340.44,304.69 L341.35,304.69 L342.26,304.69 L343.18,304.70 L344.09,304.70 L345.00,304.70 L345.92,304.71 L346.83,304.71 L347.75,304.71 L348.66,304.71 L349.57,304.72 L350.49,304.72 L351.40,304.72 L352.31,304.73 L353.23,304.73 L354.14,304.74 L355.06,304.74 L355.97,304.74 L356.88,304.75 L357.80,304.75 L358.71,304.76 L359.62,304.76 L360.54,304.77 L361.45,304.77 L362.37,304.77 L363.28,304.78 L364.19,304.78 L365.11,304.79 L366.02,304.80 L366.94,304.80 L367.85,304.81 L368.76,304.81 L369.68,304.82 L370.59,304.83 L371.50,304.83 L372.42,304.84 L373.33,304.85 L374.25,304.85 L375.16,304.86 L376.07,304.87 L376.99,304.87 L377.90,304.88 L378.81,304.89 L379.73,304.90 L380.64,304.91 L381.55,304.92 L382.47,304.93 L383.38,304.94 L384.30,304.95 L385.21,304.96 L386.12,304.97 L387.04,304.98 L387.95,304.99 L388.87,305.00 L389.78,305.01 L390.69,305.02 L391.61,305.03 L392.52,305.05 L393.43,305.06 L394.35,305.07 L395.26,305.09 L396.17,305.10 L397.09,305.11 L398.00,305.13 L398.92,305.14 L399.83,305.16 L400.74,305.18 L401.66,305.19 L402.57,305.21 L403.48,305.23 L404.40,305.25 L405.31,305.26 L406.23,305.28 L407.14,305.30 L408.05,305.32 L408.97,305.35 L409.88,305.37 L410.80,305.39 L411.71,305.41 L412.62,305.44 L413.54,305.46 L414.45,305.48 L415.36,305.51 L416.28,305.54 L417.19,305.56 L418.10,305.59 L419.02,305.62 L419.93,305.65 L420.85,305.68 L421.76,305.71 L422.67,305.74 L423.59,305.78 L424.50,305.81 L425.42,305.85 L426.33,305.88 L427.24,305.92 L428.16,305.96 L429.07,306.00 L429.98,306.04 L430.90,306.08 L431.81,306.12 L432.72,306.16 L433.64,306.21 L434.55,306.26 L435.47,306.30 L436.38,306.35 L437.29,306.40 L438.21,306.45 L439.12,306.51 L440.03,306.56 L440.95,306.62 L441.86,306.68 L442.78,306.74 L443.69,306.80 L444.60,306.86 L445.52,306.93 L446.43,306.99 L447.34,307.06 L448.26,307.13 L449.17,307.21 L450.09,307.28 L451.00,307.36 L451.91,307.44 L452.83,307.52 L453.74,307.60 L454.65,307.69 L455.57,307.78 L456.48,307.87 L457.40,307.96 L458.31,308.06 L459.22,308.16 L460.14,308.26 L461.05,308.36 L461.96,308.47 L462.88,308.58 L463.79,308.69 L464.71,308.81 L465.62,308.93 L466.53,309.05 L467.45,309.18 L468.36,309.31 L469.27,309.44 L470.19,309.58 L471.10,309.72 L472.02,309.86 L472.93,310.01 L473.84,310.17 L474.76,310.32 L475.67,310.48 L476.58,310.65 L477.50,310.82 L478.41,310.99 L479.33,311.17 L480.24,311.36 L481.15,311.55 L482.07,311.74 L482.98,311.94 L483.89,312.15 L484.81,312.36 L485.72,312.57 L486.64,312.79 L487.55,313.02 L488.46,313.25 L489.38,313.49 L490.29,313.74 L491.20,313.99 L492.12,314.25 L493.03,314.52 L493.95,314.79 L494.86,315.07 L495.77,315.36 L496.69,315.65 L497.60,315.95 L498.51,316.26 L499.43,316.58 L500.34,316.90 L501.26,317.24 L502.17,317.58 L503.08,317.93 L504.00,318.29 L504.91,318.66 L505.82,319.03 L506.74,319.42 L507.65,319.81 L508.57,320.22 L509.48,320.63 L510.39,321.06 L511.31,321.49 L512.22,321.94 L513.13,322.40 L514.05,322.86 L514.96,323.34 L515.88,323.83 L516.79,324.33 L517.70,324.84 L518.62,325.36 L519.53,325.90 L520.44,326.45 L521.36,327.00 L522.27,327.58 L523.19,328.16 L524.10,328.76 L525.01,329.37 L525.93,329.99 L526.84,330.63 L527.75,331.28 L528.67,331.94 L529.58,332.62 L530.50,333.31 L531.41,334.02 L532.32,334.74 L533.24,335.48 L534.15,336.23 L535.07,336.99 L535.98,337.77 L536.89,338.57 L537.81,339.38 L538.72,340.21 L539.63,341.05 L540.55,341.91 L541.46,342.78 L542.38,343.67 L543.29,344.58 L544.20,345.50 L545.12,346.44 L546.03,347.40 L546.94,348.37 L547.86,349.36 L548.77,350.36 L549.68,351.39 L550.60,352.43 L551.51,353.48 L552.43,354.56 L553.34,355.65 L554.25,356.76 L555.17,357.88 L556.08,359.02 L557.00,360.18 L557.91,361.36 L558.82,362.56 L559.74,363.77 L560.65,365.00 L561.56,366.24 L562.48,367.51 L563.39,368.79 L564.30,370.09 L565.22,371.40 L566.13,372.73 L567.05,374.08 L567.96,375.45 L568.87,376.83 L569.79,378.23 L570.70,379.65 L571.62,381.09 L572.53,382.54 L573.44,384.00 L574.36,385.49 L575.27,386.99 L576.18,388.50 L577.10,390.04 L578.01,391.58 L578.92,393.15 L579.84,394.73 L580.75,396.32 L581.67,397.93 L582.58,399.56 L583.49,401.20 L584.41,402.86 L585.32,404.53 L586.23,406.21 L587.15,407.91 L588.06,409.63 L588.98,411.35 L589.89,413.10 L590.80,414.85 L591.72,416.62 L592.63,418.40 L593.54,420.20 L594.46,422.01 L595.37,423.83 L596.29,425.67 L597.20,427.51 L598.11,429.37 L599.03,431.24 L599.94,433.13 L600.85,435.02 L601.77,436.93 L602.68,438.84 L603.60,440.77 L604.51,442.71 L605.42,444.66 L606.34,446.62 L607.25,448.60 L608.16,450.58 L609.08,452.57" stroke="#808080"/>
</g>
<rect x="85.5" y="6.5" width="731.0" height="452.0" fill="none" stroke="#666666" stroke-width="3"/>
<path d="M85.50,458.5 v-7.4 M85.50,6.5 v7.4 M129.51,458.5 v-3.8 M129.51,6.5 v3.8 M155.26,458.5 v-3.8 M155.26,6.5 v3.8 M173.52,458.5 v-3.8 M173.52,6.5 v3.8 M187.69,458.5 v-3.8 M187.69,6.5 v3.8 M199.27,458.5 v-3.8 M199.27,6.5 v3.8 M209.05,458.5 v-3.8 M209.05,6.5 v3.8 M217.53,458.5 v-3.8 M217.53,6.5 v3.8 M225.01,458.5 v-3.8 M225.01,6.5 v3.8 M231.70,458.5 v-7.4 M231.70,6.5 v7.4 M275.71,458.5 v-3.8 M275.71,6.5 v3.8 M301.46,458.5 v-3.8 M301.46,6.5 v3.8 M319.72,458.5 v-3.8 M319.72,6.5 v3.8 M333.89,458.5 v-3.8 M333.89,6.5 v3.8 M345.47,458.5 v-3.8 M345.47,6.5 v3.8 M355.25,458.5 v-3.8 M355.25,6.5 v3.8 M363.73,458.5 v-3.8 M363.73,6.5 v3.8 M371.21,458.5 v-3.8 M371.21,6.5 v3.8 M377.90,458.5 v-7.4 M377.90,6.5 v7.4 M421.91,458.5 v-3.8 M421.91,6.5 v3.8 M447.66,458.5 v-3.8 M447.66,6.5 v3.8 M465.92,458.5 v-3.8 M465.92,6.5 v3.8 M480.09,458.5 v-3.8 M480.09,6.5 v3.8 M491.67,458.5 v-3.8 M491.67,6.5 v3.8 M501.45,458.5 v-3.8 M501.45,6.5 v3.8 M509.93,458.5 v-3.8 M509.93,6.5 v3.8 M517.41,458.5 v-3.8 M517.41,6.5 v3.8 M524.10,458.5 v-7.4 M524.10,6.5 v7.4 M568.11,458.5 v-3.8 M568.11,6.5 v3.8 M593.86,458.5 v-3.8 M593.86,6.5 v3.8 M612.12,458.5 v-3.8 M612.12,6.5 v3.8 M626.29,458.5 v-3.8 M626.29,6.5 v3.8 M637.87,458.5 v-3.8 M637.87,6.5 v3.8 M647.65,458.5 v-3.8 M647.65,6.5 v3.8 M656.13,458.5 v-3.8 M656.13,6.5 v3.8 M663.61,458.5 v-3.8 M663.61,6.5 v3.8 M670.30,458.5 v-7.4 M670.30,6.5 v7.4 M714.31,458.5 v-3.8 M714.31,6.5 v3.8 M740.06,458.5 v-3.8 M740.06,6.5 v3.8 M758.32,458.5 v-3.8 M758.32,6.5 v3.8 M772.49,458.5 v-3.8 M772.49,6.5 v3.8 M784.07,458.5 v-3.8 M784.07,6.5 v3.8 M793.85,458.5 v-3.8 M793.85,6.5 v3.8 M802.33,458.5 v-3.8 M802.33,6.5 v3.8 M809.81,458.5 v-3.8 M809.81,6.5 v3.8 M816.50,458.5 v-7.4 M816.50,6.5 v7.4 M85.5,64.55 h7.4 M816.5,64.55 h-7.4 M85.5,122.50 h7.4 M816.5,122.50 h-7.4 M85.5,257.05 h7.4 M816.5,257.05 h-7.4 M85.5,315.00 h7.4 M816.5,315.00 h-7.4 M85.5,449.55 h7.4 M816.5,449.55 h-7.4 M85.5,6.60 h3.8 M816.5,6.60 h-3.8 M85.5,458.36 h3.8 M816.5,458.36 h-3.8 M85.5,73.36 h3.8 M816.5,73.36 h-3.8 M85.5,83.21 h3.8 M816.5,83.21 h-3.8 M85.5,94.37 h3.8 M816.5,94.37 h-3.8 M85.5,107.26 h3.8 M816.5,107.26 h-3.8 M85.5,141.15 h3.8 M816.5,141.15 h-3.8 M85.5,165.20 h3.8 M816.5,165.20 h-3.8 M85.5,199.10 h3.8 M816.5,199.10 h-3.8 M85.5,265.86 h3.8 M816.5,265.86 h-3.8 M85.5,275.71 h3.8 M816.5,275.71 h-3.8 M85.5,286.87 h3.8 M816.5,286.87 h-3.8 M85.5,299.76 h3.8 M816.5,299.76 h-3.8 M85.5,333.65 h3.8 M816.5,333.65 h-3.8 M85.5,357.70 h3.8 M816.5,357.70 h-3.8 M85.5,391.60 h3.8 M816.5,391.60 h-3.8" stroke="#000" stroke-width="2.9" fill="none"/>
<g transform="translate(81.5,72.55) scale(0.96,1)"><text class="tl" text-anchor="end">1</text><rect x="-11.91" y="-3.14" width="4.45" height="5.04" fill="#fff" stroke="none"/><rect x="-3.68" y="-3.14" width="4.06" height="5.04" fill="#fff" stroke="none"/></g>
<g transform="translate(80.5,130.50) scale(0.96,1)"><text class="tl" text-anchor="end">0.50</text></g>
<g transform="translate(80.5,265.05) scale(0.96,1)"><text class="tl" text-anchor="end">0.10</text><rect x="-24.14" y="-3.14" width="4.45" height="5.04" fill="#fff" stroke="none"/><rect x="-15.92" y="-3.14" width="4.06" height="5.04" fill="#fff" stroke="none"/></g>
<g transform="translate(80.5,323.00) scale(0.96,1)"><text class="tl" text-anchor="end">0.05</text></g>
<g transform="translate(80.5,457.55) scale(0.96,1)"><text class="tl" text-anchor="end">0.01</text><rect x="-11.91" y="-3.14" width="4.45" height="5.04" fill="#fff" stroke="none"/><rect x="-3.68" y="-3.14" width="4.06" height="5.04" fill="#fff" stroke="none"/></g>
<g transform="translate(85.50,483) scale(0.96,1)"><text class="tl" text-anchor="middle">0.1</text><rect x="3.39" y="-3.14" width="4.45" height="5.04" fill="#fff" stroke="none"/><rect x="11.61" y="-3.14" width="4.06" height="5.04" fill="#fff" stroke="none"/></g>
<g transform="translate(231.70,483) scale(0.96,1)"><text class="tl" text-anchor="middle">1</text><rect x="-5.79" y="-3.14" width="4.45" height="5.04" fill="#fff" stroke="none"/><rect x="2.44" y="-3.14" width="4.06" height="5.04" fill="#fff" stroke="none"/></g>
<g transform="translate(377.90,483) scale(0.96,1)"><text class="tl" text-anchor="middle">10</text><rect x="-11.91" y="-3.14" width="4.45" height="5.04" fill="#fff" stroke="none"/><rect x="-3.68" y="-3.14" width="4.06" height="5.04" fill="#fff" stroke="none"/></g>
<g transform="translate(524.10,483) scale(0.96,1)"><text class="tl" text-anchor="middle">100</text><rect x="-18.02" y="-3.14" width="4.45" height="5.04" fill="#fff" stroke="none"/><rect x="-9.80" y="-3.14" width="4.06" height="5.04" fill="#fff" stroke="none"/></g>
<g transform="translate(670.30,483) scale(0.96,1)"><text class="tl" text-anchor="middle">1000</text><rect x="-24.14" y="-3.14" width="4.45" height="5.04" fill="#fff" stroke="none"/><rect x="-15.92" y="-3.14" width="4.06" height="5.04" fill="#fff" stroke="none"/></g>
<g transform="translate(800.4,484.2) scale(0.96,1)"><text class="tl">10<tspan font-size="15.5" dy="-9">4</tspan></text><rect x="0.33" y="-3.14" width="4.45" height="5.04" fill="#fff" stroke="none"/><rect x="8.55" y="-3.14" width="4.06" height="5.04" fill="#fff" stroke="none"/></g>
<g font-weight="bold" stroke="#000" stroke-width="0.2"><text x="403.1" y="518.5" font-size="22" font-style="italic">m</text><text x="422.9" y="523" font-size="16" font-style="italic">χ</text><text transform="translate(440.7,518.5) scale(1.012,1)" font-size="22">[GeV]</text></g>
<g transform="translate(23.2,271.7) rotate(-90)" font-weight="bold" stroke="#000" stroke-width="0.2">
<text x="-0.6" y="0" font-size="22" font-style="italic">ϵ</text>
<text x="10" y="-10" font-size="16.5">Au</text>
<text transform="translate(10.7,6.1) skewX(-10)" font-size="15.5" font-style="italic">ττ</text>
<text x="33.6" y="1" font-size="20.5">=</text>
<text x="46.3" y="0" font-size="22" font-style="italic">ϵ</text>
<text x="57.9" y="-10" font-size="16.5">Ad</text>
<text transform="translate(57.6,6.1) skewX(-10)" font-size="15.5" font-style="italic">ττ</text>
</g>
<path d="M849.1,196.9 H902" stroke="#0000ff" stroke-width="2.2" stroke-dasharray="5.8 5.9" fill="none"/>
<g font-size="17.5" stroke="#000" stroke-width="0.3"><text x="916.7" y="202.30" font-size="18.2" font-style="italic">λ</text><text x="926.6" y="206.20" font-size="13" font-style="italic">T</text><text transform="translate(936.1,204.00) scale(1.03,1.1)">=</text><text x="947.5" y="202.30" font-size="18.2" font-style="italic">λ</text><text x="958.2" y="206.20" font-size="13" font-style="italic">B</text><text transform="translate(967.5,204.00) scale(1.03,1.1)">=</text><g transform="translate(977.6,202.30)"><text>4</text></g></g>
<path d="M849.1,242.05 H902" stroke="#800080" stroke-width="2.2" stroke-dasharray="5.8 5.9" fill="none"/>
<g font-size="17.5" stroke="#000" stroke-width="0.3"><text x="916.7" y="247.45" font-size="18.2" font-style="italic">λ</text><text x="926.6" y="251.35" font-size="13" font-style="italic">T</text><text transform="translate(936.1,249.15) scale(1.03,1.1)">=</text><text x="947.5" y="247.45" font-size="18.2" font-style="italic">λ</text><text x="958.2" y="251.35" font-size="13" font-style="italic">B</text><text transform="translate(967.5,249.15) scale(1.03,1.1)">=</text><g transform="translate(977.6,247.45)"><text>3</text></g></g>
<path d="M849.1,287.1 H902" stroke="#ff8080" stroke-width="2.2" stroke-dasharray="5.8 5.9" fill="none"/>
<g font-size="17.5" stroke="#000" stroke-width="0.3"><text x="916.7" y="292.50" font-size="18.2" font-style="italic">λ</text><text x="926.6" y="296.40" font-size="13" font-style="italic">T</text><text transform="translate(936.1,294.20) scale(1.03,1.1)">=</text><text x="947.5" y="292.50" font-size="18.2" font-style="italic">λ</text><text x="958.2" y="296.40" font-size="13" font-style="italic">B</text><text transform="translate(967.5,294.20) scale(1.03,1.1)">=</text><g transform="translate(977.6,292.50)"><text>2</text></g></g>
<path d="M849.1,332.2 H902" stroke="#808080" stroke-width="2.2" stroke-dasharray="5.8 5.9" fill="none"/>
<g font-size="17.5" stroke="#000" stroke-width="0.3"><text x="916.7" y="337.60" font-size="18.2" font-style="italic">λ</text><text x="926.6" y="341.50" font-size="13" font-style="italic">T</text><text transform="translate(936.1,339.30) scale(1.03,1.1)">=</text><text x="947.5" y="337.60" font-size="18.2" font-style="italic">λ</text><text x="958.2" y="341.50" font-size="13" font-style="italic">B</text><text transform="translate(967.5,339.30) scale(1.03,1.1)">=</text><g transform="translate(977.6,337.60)"><text>1</text><rect x="0.35" y="-2.21" width="3.70" height="4.11" fill="#fff" stroke="none"/><rect x="6.35" y="-2.21" width="3.50" height="4.11" fill="#fff" stroke="none"/></g></g>
</svg></body></html>
